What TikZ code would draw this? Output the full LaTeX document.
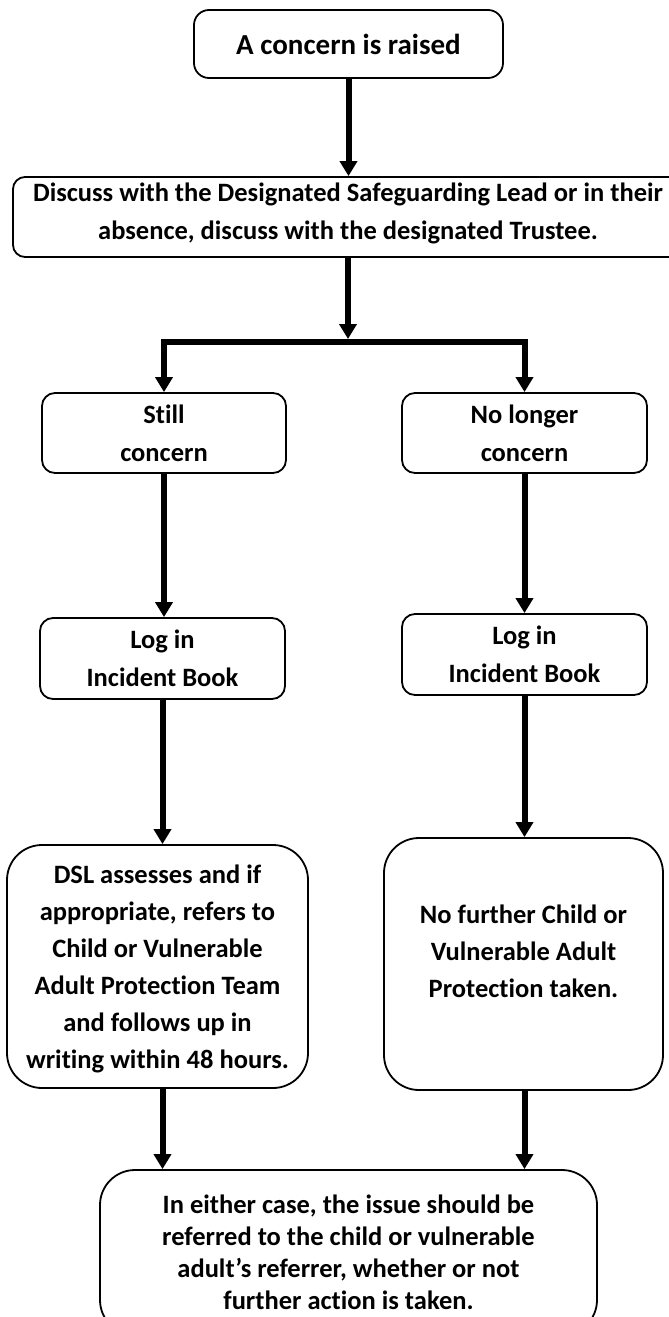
\documentclass[tikz,border=0pt]{standalone}
\usepackage{fontspec}
\setmainfont{Carlito}[Ligatures=NoCommon]
\usetikzlibrary{arrows.meta}
\begin{document}
\begin{tikzpicture}[x=1pt,y=-1pt,
  >={Triangle[width=17pt,length=15pt]},
  box/.style={draw, line width=1.8pt, rounded corners=#1, align=center,
    inner sep=0pt, font=\fontsize{26.5}{38}\selectfont\bfseries},
  box/.default=13pt,
  low/.style={text depth=-8pt},
  conn/.style={line width=6pt, ->},
  split/.style={line width=6pt, <->}]
\useasboundingbox (0,0) rectangle (669,1317);
\clip (0,0) rectangle (669,1317);
\fill[white] (0,0) rectangle (669,1317);

% boxes
\node[box=15pt, text depth=-7pt, minimum width=309pt, minimum height=68pt,
  font=\fontsize{29}{38}\selectfont\bfseries] (raised) at (348.5,44) {A concern is raised};
\node[box=12pt, text depth=11pt, minimum width=670pt, minimum height=80pt] (discuss) at (348,217)
  {Discuss with the Designated Safeguarding Lead or in their\\absence, discuss with the designated Trustee.};
\coordinate (fork) at (348,342);
\node[box, low, minimum width=244pt, minimum height=80pt] (still) at (164,433) {Still\\concern};
\node[box, low, minimum width=245pt, minimum height=80pt] (nolonger) at (524.5,433) {No longer\\concern};
\node[box, low, minimum width=245pt, minimum height=81pt] (logL) at (162.5,658.5) {Log in\\Incident Book};
\node[box, low, minimum width=245pt, minimum height=81pt] (logR) at (524.5,654.5) {Log in\\Incident Book};
\node[box=35pt, text depth=-5pt, minimum width=301pt, minimum height=243pt,
  font=\fontsize{26.5}{37}\selectfont\bfseries] (dsl) at (157.5,966.5)
  {DSL assesses and if\\appropriate, refers to\\Child or Vulnerable\\Adult Protection Team\\and follows up in\\writing within 48 hours.};
\node[box=35pt, minimum width=279pt, minimum height=252pt, text depth=26pt,
  font=\fontsize{26.5}{37}\selectfont\bfseries] (nofurther) at (523.5,964)
  {No further Child or\\Vulnerable Adult\\Protection taken.};
\node[box=35pt, minimum width=497pt, minimum height=165pt,
  font=\fontsize{26.5}{32}\selectfont\bfseries] (final) at (348.5,1252.5)
  {In either case, the issue should be\\referred to the child or vulnerable\\adult’s referrer, whether or not\\further action is taken.};

% connectors
\draw[conn] (raised.south) -- (raised.south |- discuss.north);
\draw[conn, shorten >=3pt] (discuss.south) -- (fork);
\draw[split] (still.north) |- (fork) -| (nolonger.north);
\draw[conn] (still.south) -- (still.south |- logL.north);
\draw[conn] (nolonger.south) -- (nolonger.south |- logR.north);
\draw[conn] (logL.south) -- (logL.south |- dsl.north);
\draw[conn] (logR.south) -- (logR.south |- nofurther.north);
\draw[conn] (dsl.south -| logL.south) -- (logL.south |- final.north);
\draw[conn] (nofurther.south -| logR.south) -- (logR.south |- final.north);
\end{tikzpicture}
\end{document}
